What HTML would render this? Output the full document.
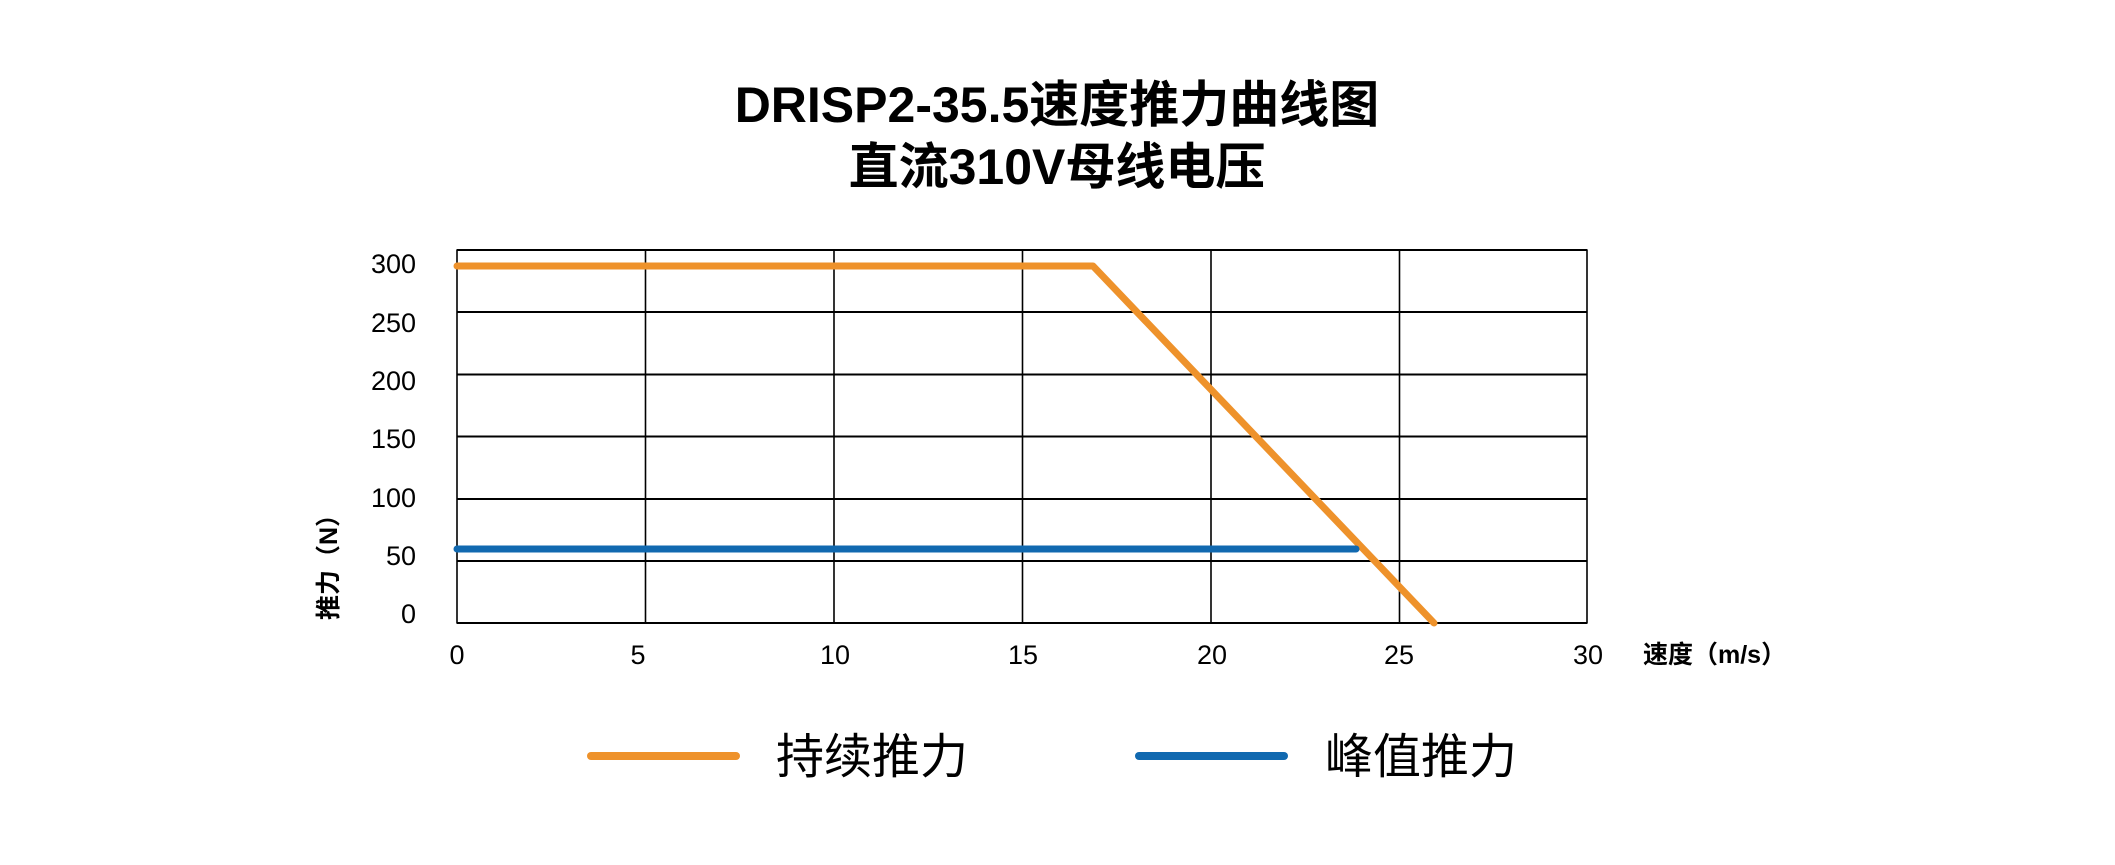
<!DOCTYPE html>
<html><head><meta charset="utf-8"><style>
html,body{margin:0;padding:0;background:#fff;}
body{width:2115px;height:860px;overflow:hidden;}
svg text{font-family:"Liberation Sans","Noto Sans CJK SC",sans-serif;}
</style></head><body>
<svg width="2115" height="860" xmlns="http://www.w3.org/2000/svg">
<text x="1057" y="122" text-anchor="middle" font-size="50" font-weight="bold" fill="#000">DRISP2-35.5速度推力曲线图</text>
<text x="1057" y="184" text-anchor="middle" font-size="50" font-weight="bold" fill="#000">直流310V母线电压</text>
<g stroke="#000" stroke-width="2">
<line x1="456.5" y1="250" x2="1587.5" y2="250"/>
<line x1="456.5" y1="312" x2="1587.5" y2="312"/>
<line x1="456.5" y1="374.5" x2="1587.5" y2="374.5"/>
<line x1="456.5" y1="436.5" x2="1587.5" y2="436.5"/>
<line x1="456.5" y1="499" x2="1587.5" y2="499"/>
<line x1="456.5" y1="561" x2="1587.5" y2="561"/>
<line x1="456.5" y1="623" x2="1587.5" y2="623"/>
</g>
<g stroke="#000" stroke-width="1.6">
<line x1="457" y1="250" x2="457" y2="623"/>
<line x1="645.5" y1="250" x2="645.5" y2="623"/>
<line x1="834" y1="250" x2="834" y2="623"/>
<line x1="1022.5" y1="250" x2="1022.5" y2="623"/>
<line x1="1211" y1="250" x2="1211" y2="623"/>
<line x1="1399.5" y1="250" x2="1399.5" y2="623"/>
<line x1="1587" y1="250" x2="1587" y2="623"/>
</g>
<polyline points="457,266 1093,266 1434,623" fill="none" stroke="#ee922b" stroke-width="7" stroke-linecap="round" stroke-linejoin="round"/>
<line x1="457" y1="549" x2="1356" y2="549" stroke="#1169b0" stroke-width="7" stroke-linecap="round"/>
<g font-size="27" fill="#000" text-anchor="end">
<text x="416" y="273">300</text>
<text x="416" y="332">250</text>
<text x="416" y="390">200</text>
<text x="416" y="448">150</text>
<text x="416" y="507">100</text>
<text x="416" y="565">50</text>
<text x="416" y="623">0</text>
</g>
<g font-size="27" fill="#000" text-anchor="middle">
<text x="457" y="664">0</text>
<text x="638" y="664">5</text>
<text x="835" y="664">10</text>
<text x="1023" y="664">15</text>
<text x="1212" y="664">20</text>
<text x="1399" y="664">25</text>
<text x="1588" y="664">30</text>
</g>
<text x="1643" y="663" font-size="25" font-weight="bold" fill="#000">速度（m/s）</text>
<text transform="translate(337,561) rotate(-90)" text-anchor="middle" font-size="25" font-weight="bold" fill="#000">推力（N）</text>
<line x1="591" y1="756" x2="736" y2="756" stroke="#ee922b" stroke-width="8" stroke-linecap="round"/>
<text x="776" y="773" font-size="48" fill="#000">持续推力</text>
<line x1="1139" y1="756" x2="1284" y2="756" stroke="#1169b0" stroke-width="8" stroke-linecap="round"/>
<text x="1325" y="773" font-size="48" fill="#000">峰值推力</text>
</svg>
</body></html>
